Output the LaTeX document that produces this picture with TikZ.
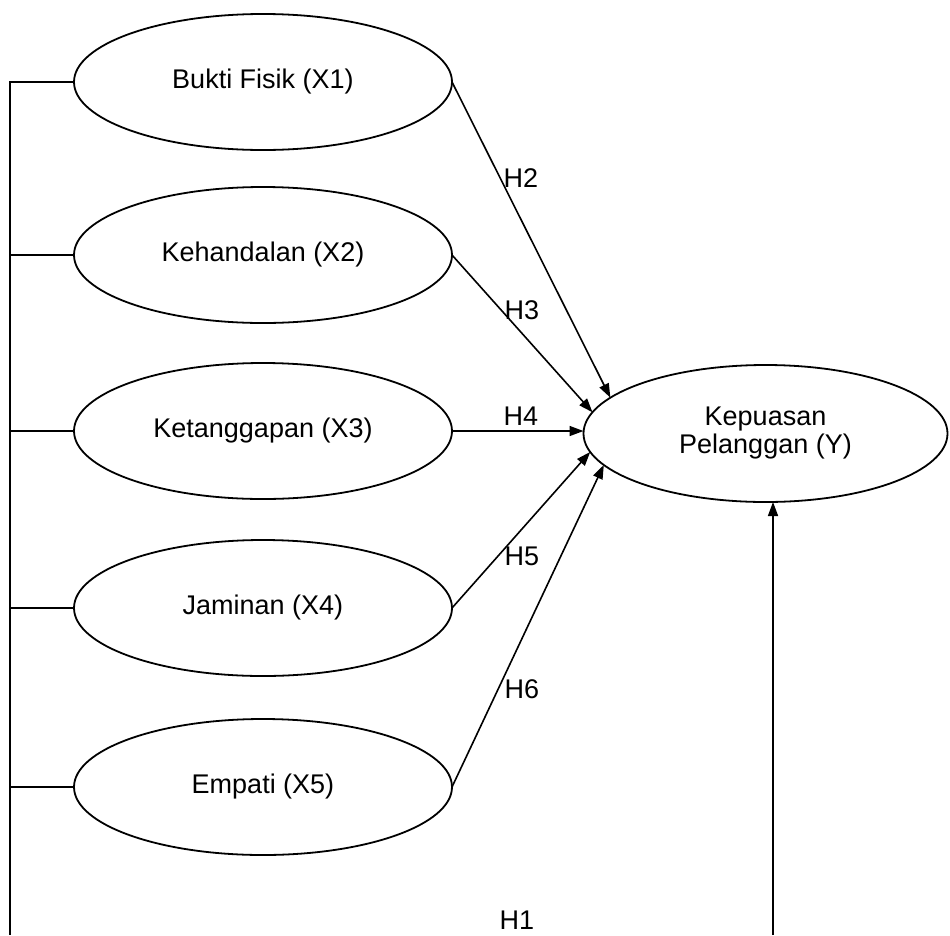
\documentclass[tikz,border=0pt]{standalone}
\usepackage{fontspec}
\setmainfont{Liberation Sans}
\usetikzlibrary{shapes.geometric,arrows.meta}
\begin{document}
\begin{tikzpicture}[x=1pt,y=-1pt,
  var/.style={ellipse,draw,line width=1.8pt,minimum width=378pt,minimum height=136pt,inner sep=0pt,outer sep=0pt,font=\fontsize{27}{28}\selectfont,align=center},
  conn/.style={line width=1.6pt},
  arr/.style={line width=1.6pt,-{Triangle[length=14pt,width=10pt]}},
  hlab/.style={font=\fontsize{27}{28}\selectfont,inner sep=0pt}]
\useasboundingbox (0,0) rectangle (950,935);
\node[var] (x1) at (263,82) {Bukti Fisik (X1)};
\node[var] (x2) at (263,255) {Kehandalan (X2)};
\node[var] (x3) at (263,431) {Ketanggapan (X3)};
\node[var] (x4) at (263,608) {Jaminan (X4)};
\node[var] (x5) at (263,787) {Empati (X5)};
\node[var,minimum width=364pt,minimum height=137pt] (y) at (765.5,433.5) {Kepuasan\\Pelanggan (Y)};
\coordinate (bl) at (10,935);
\coordinate (br) at (773,935);
\draw[conn] (x1.west) -| (bl);
\foreach \n in {x2,x3,x4,x5} \draw[conn] (\n.west) -- (\n.west -| bl);
\draw[arr] (x1.east) -- (y.167.5);
\draw[arr] (x2.east) -- (y.173.2);
\draw[arr] (x3.east) -- (x3.east -| y.west);
\draw[arr] (x4.east) -- (y.186.4);
\draw[arr] (x5.east) -- (y.191.9);
\draw[arr] (br) -- (br |- y.south);
\node[hlab] (h2) at (521,178) {H2};
\node[hlab] (h3) at (522,310) {H3};
\node[hlab] (h4) at (521,416) {H4};
\node[hlab] (h5) at (522,556) {H5};
\node[hlab] (h6) at (522,689) {H6};
\node[hlab] (h1) at (517,920) {H1};
\end{tikzpicture}
\end{document}
